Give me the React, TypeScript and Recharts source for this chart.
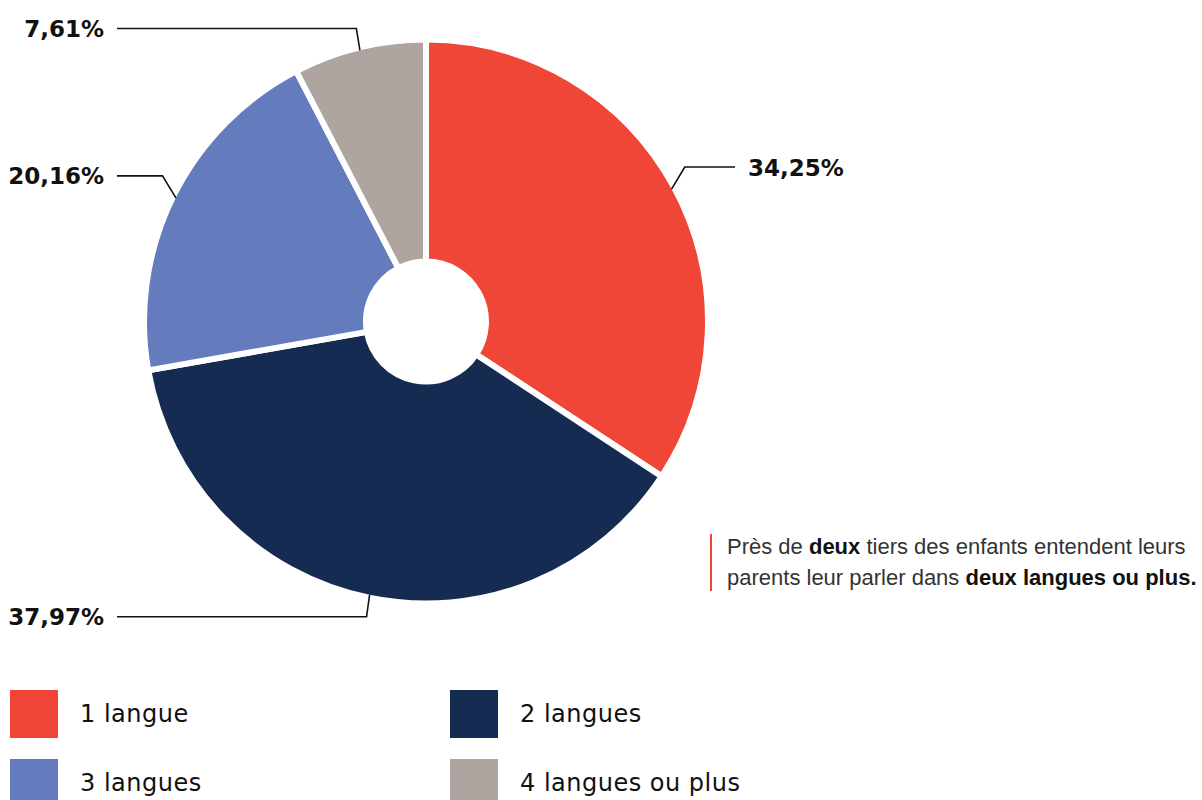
import { PieChart, Pie, Cell } from 'recharts'

const categories = ['1 langue', '2 langues', '3 langues', '4 langues ou plus']
const shares = [34.25, 37.97, 20.16, 7.61]
const colors = ['#EF4638', '#162B51', '#647CBD', '#AEA4A0']

const data = categories.map((name, i) => ({ name, value: shares[i] }))

const RADIAN = Math.PI / 180

// label with elbow line, text parked left or right of the pie
const renderLabel = (props: any) => {
    const { cx, cy, midAngle, outerRadius, value } = props
    const r = outerRadius - 3
    const cos = Math.cos(-midAngle * RADIAN)
    const sin = Math.sin(-midAngle * RADIAN)
    const ex = cx + r * cos
    const ey = cy + r * sin
    const mx = ex + 15 * cos
    const my = ey + (sin < 0 ? -22 : 22)
    const right = cos > 0
    const endX = right ? 735 : 117
    const textX = right ? 748 : 104
    const txt = value.toFixed(2).replace('.', ',') + '%'
    return (
        <g>
            <polyline points={`${ex},${ey} ${mx},${my} ${endX},${my}`} fill="none" stroke="#111" strokeWidth={1.6} />
            <text x={textX} y={my} dy={8.5} textAnchor={right ? 'start' : 'end'}
                fontFamily="'DejaVu Sans', sans-serif" fontWeight="bold" fontSize={23} fill="#111">
                {txt}
            </text>
        </g>
    )
}

export default function App() {
    return (
        <div style={{ position: 'absolute', left: 0, top: 0, width: 1202, height: 800, background: '#fff', overflow: 'hidden' }}>
            <PieChart width={1202} height={660} margin={{ top: 0, right: 0, bottom: 0, left: 0 }} style={{ position: 'absolute', left: 0, top: 0 }}>
                <Pie
                    data={data}
                    dataKey="value"
                    cx={426}
                    cy={321.5}
                    innerRadius={60}
                    outerRadius={282}
                    startAngle={90}
                    endAngle={-270}
                    stroke="#fff"
                    strokeWidth={6}
                    label={renderLabel}
                    labelLine={false}
                    isAnimationActive={false}
                >
                    {data.map((d, i) => <Cell key={d.name} fill={colors[i]} />)}
                </Pie>
            </PieChart>

            <div style={{ position: 'absolute', left: 710, top: 534, width: 2, height: 57, background: '#EF4638' }} />
            <div style={{ position: 'absolute', left: 727, top: 531, fontFamily: "'Liberation Sans', Arial, sans-serif", fontSize: 22, lineHeight: '31px', color: '#333', whiteSpace: 'nowrap' }}>
                Près de <b style={{ color: '#111' }}>deux</b> tiers des enfants entendent leurs<br />
                parents leur parler dans <b style={{ color: '#111' }}>deux langues ou plus.</b>
            </div>

            {categories.map((c, i) => (
                <div key={c} style={{ position: 'absolute', left: i % 2 === 0 ? 10 : 450, top: 690 + Math.floor(i / 2) * 69, display: 'flex', alignItems: 'center' }}>
                    <div style={{ width: 48, height: 48, background: colors[i] }} />
                    <span style={{ marginLeft: 22, fontFamily: "'DejaVu Sans', sans-serif", fontSize: 24, letterSpacing: 0.5, color: '#111' }}>{c}</span>
                </div>
            ))}
        </div>
    )
}
